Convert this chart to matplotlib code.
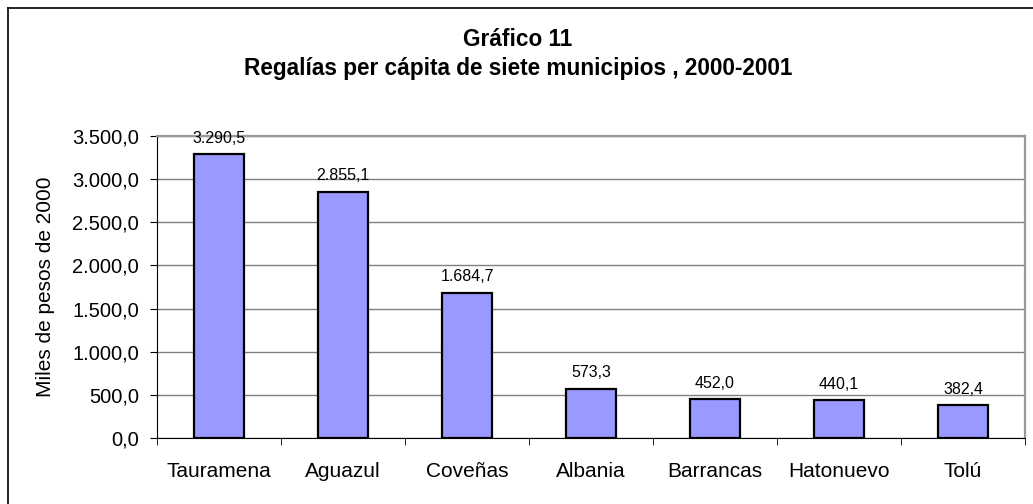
import matplotlib
matplotlib.use('Agg')
import matplotlib.pyplot as plt
from matplotlib.lines import Line2D
from matplotlib.ticker import FuncFormatter, MultipleLocator
import numpy as np

plt.rcParams['font.family'] = ['Liberation Sans', 'DejaVu Sans']

# datos
municipios = ['Tauramena', 'Aguazul', 'Coveñas', 'Albania', 'Barrancas', 'Hatonuevo', 'Tolú']
regalias = [3290.5, 2855.1, 1684.7, 573.3, 452.0, 440.1, 382.4]


def fmt_es(v, pos=None):
    s = f'{v:,.1f}'
    return s.replace(',', 'X').replace('.', ',').replace('X', '.')


W, H = 1033, 504
fig = plt.figure(figsize=(W / 100, H / 100), dpi=100)

# marco exterior (solo se ven el borde superior e izquierdo)
fig.lines.append(Line2D([8 / W, 1], [1 - 8 / H, 1 - 8 / H], transform=fig.transFigure,
                        color='black', linewidth=1.2))
fig.lines.append(Line2D([8 / W, 8 / W], [0, 1 - 8 / H], transform=fig.transFigure,
                        color='black', linewidth=1.2))

ax = fig.add_axes([157 / W, 1 - 438 / H, (1025 - 157) / W, (438 - 136) / H])

x = np.arange(len(municipios))
ax.bar(x, regalias, width=0.4, color='#9999FF', edgecolor='black', linewidth=1.6, zorder=3)

for xi, v in zip(x, regalias):
    ax.annotate(fmt_es(v), (xi, v), xytext=(0, 6), textcoords='offset points',
                ha='center', va='bottom', fontsize=11.5, zorder=4)

ax.set_xlim(-0.5, len(municipios) - 0.5)
ax.set_ylim(0, 3500)
ax.yaxis.set_major_locator(MultipleLocator(500))
ax.yaxis.set_major_formatter(FuncFormatter(fmt_es))
ax.yaxis.grid(True, color='#808080', linewidth=1.0, zorder=0)

ax.set_xticks(x)
ax.set_xticklabels(municipios, fontsize=15)
ax.set_xticks(np.arange(-0.5, len(municipios)), minor=True)
ax.tick_params(axis='x', which='major', length=0, pad=17)
ax.tick_params(axis='x', which='minor', length=5, direction='out', color='black')
ax.tick_params(axis='y', labelsize=14.5, length=5, direction='out', pad=8)

ax.spines['top'].set_color('#999999')
ax.spines['right'].set_color('#999999')
ax.spines['top'].set_linewidth(1.6)
ax.spines['right'].set_linewidth(1.6)
ax.spines['left'].set_color('black')
ax.spines['bottom'].set_color('black')

ax.set_ylabel('Miles de pesos de 2000', fontsize=15, labelpad=12)

fig.text(518 / W, 1 - 40 / H, 'Gráfico 11', ha='center', va='center',
         fontsize=16.3, fontweight='bold')
fig.text(518 / W, 1 - 69 / H, 'Regalías per cápita de siete municipios , 2000-2001',
         ha='center', va='center', fontsize=16.3, fontweight='bold')

fig.savefig('out.png', dpi=100)
